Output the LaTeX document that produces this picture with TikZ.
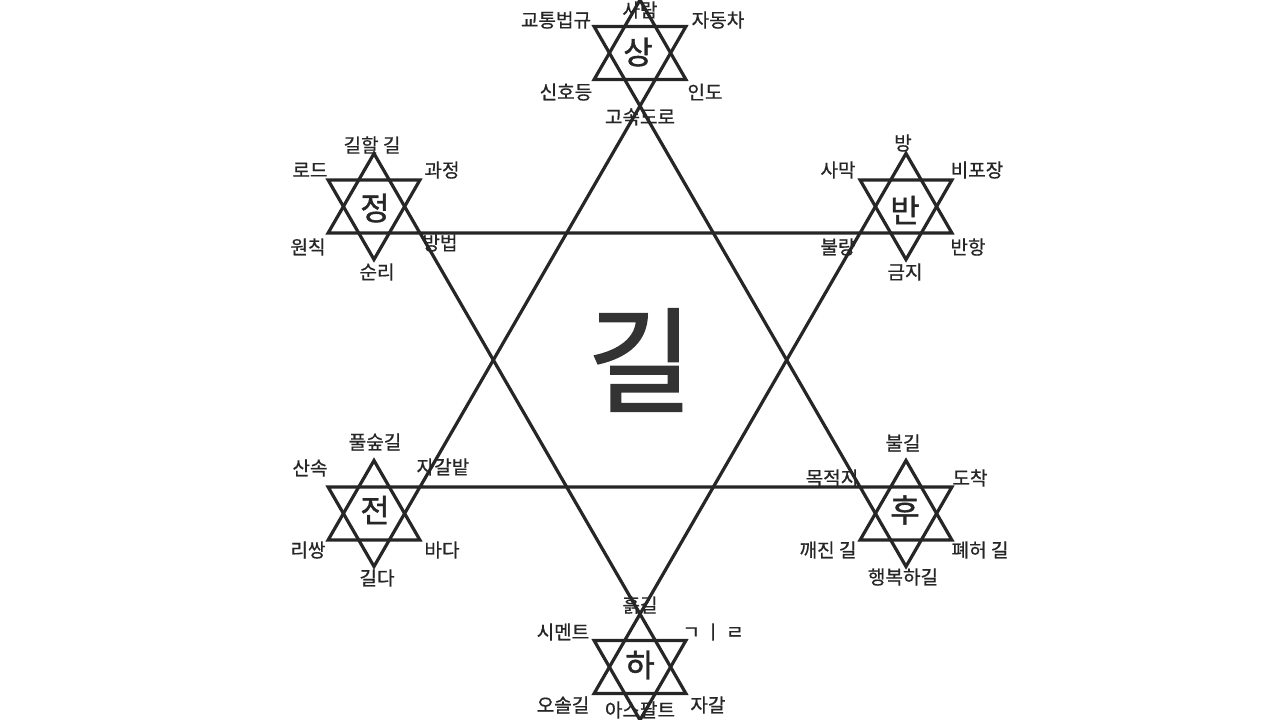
\documentclass[tikz,border=0pt]{standalone}
\usepackage{fontspec}
\setmainfont{Noto Sans CJK KR}
\newfontfamily\lblfont[FakeBold=0.6]{Noto Sans CJK KR}
\newfontfamily\corefont[FakeBold=1.2]{Noto Sans CJK KR}
\newfontfamily\bigfont[FakeBold=1.5]{Noto Sans CJK KR}
\begin{document}
\begin{tikzpicture}[x=0.75pt,y=-0.75pt]
\definecolor{ink}{HTML}{262626}
\definecolor{bigink}{HTML}{333333}
\tikzset{
  starline/.style={draw=ink, line width=2.4pt, line join=miter},
  lbl/.style={text=ink, font=\lblfont\fontsize{14.3pt}{15pt}\selectfont, inner sep=0pt},
  core/.style={text=ink, font=\corefont\fontsize{24pt}{25pt}\selectfont, inner sep=0pt},
  hexa/.pic={
    \draw[starline] (90:53) -- (210:53) -- (330:53) -- cycle;
    \draw[starline] (270:53) -- (30:53) -- (150:53) -- cycle;
  }
}
\useasboundingbox[fill=white] (0,0) rectangle (1280,720);
% big hexagram
\coordinate (A1) at (640,106);
\coordinate (A2) at (420,487);
\coordinate (A3) at (860,487);
\coordinate (B1) at (640,614);
\coordinate (B2) at (420,233);
\coordinate (B3) at (860,233);
\draw[starline] (A1) -- (A2) -- (A3) -- cycle;
\draw[starline] (B1) -- (B2) -- (B3) -- cycle;
% small hexagrams
\pic at (640,53) {hexa};
\pic at (906,206.5) {hexa};
\pic at (906,513.5) {hexa};
\pic at (640,667) {hexa};
\pic at (374,513.5) {hexa};
\pic at (374,206.5) {hexa};
% centre
\node[text=bigink, font=\bigfont\fontsize{86pt}{88pt}\selectfont, inner sep=0pt] (gil) at (640,360) {길};
% top
\node[core] (sang) at (638,52) {상};
\node[lbl] (t1) at (640,10) {사람};
\node[lbl] (t2) at (556,20) {교통법규};
\node[lbl] (t3) at (718,20) {자동차};
\node[lbl] (t4) at (566,92) {신호등};
\node[lbl] (t5) at (705,92) {인도};
\node[lbl] (t6) at (640,117) {고속도로};
% upper left
\node[core] (jeong) at (375,208) {정};
\node[lbl] (ul1) at (372,145) {길할 길};
\node[lbl] (ul2) at (310,170) {로드};
\node[lbl] (ul3) at (442,170) {과정};
\node[lbl] (ul4) at (308,247) {원칙};
\node[lbl] (ul5) at (377,272) {순리};
\node[lbl] (ul6) at (440,243) {방법};
% upper right
\node[core] (ban) at (905,210) {반};
\node[lbl] (ur1) at (903,143) {방};
\node[lbl] (ur2) at (838,170) {사막};
\node[lbl] (ur3) at (977,170) {비포장};
\node[lbl] (ur4) at (838,247) {불량};
\node[lbl] (ur5) at (968,247) {반항};
\node[lbl] (ur6) at (905,272) {금지};
% lower left
\node[core] (jeon) at (375,510) {전};
\node[lbl] (ll1) at (375,442) {풀숲길};
\node[lbl] (ll2) at (310,468) {산속};
\node[lbl] (ll3) at (443,467) {자갈밭};
\node[lbl] (ll4) at (308,550) {리쌍};
\node[lbl] (ll5) at (442,550) {바다};
\node[lbl] (ll6) at (377,578) {길다};
% lower right
\node[core] (hu) at (905,510) {후};
\node[lbl] (lr1) at (903,443) {불길};
\node[lbl] (lr2) at (832,478) {목적지};
\node[lbl] (lr3) at (970,478) {도착};
\node[lbl] (lr4) at (828,550) {깨진 길};
\node[lbl] (lr5) at (980,550) {폐허 길};
\node[lbl] (lr6) at (903,577) {행복하길};
% bottom
\node[core] (ha) at (640,665) {하};
\node[lbl] (b1) at (640,605) {흙길};
\node[lbl] (b2) at (563,632) {시멘트};
\node[lbl] (b3) at (713,632) {ㄱ ㅣ ㄹ};
\node[lbl] (b4) at (563,705) {오솔길};
\node[lbl] (b5) at (640,710) {아스팔트};
\node[lbl] (b6) at (708,705) {자갈};
\end{tikzpicture}
\end{document}
